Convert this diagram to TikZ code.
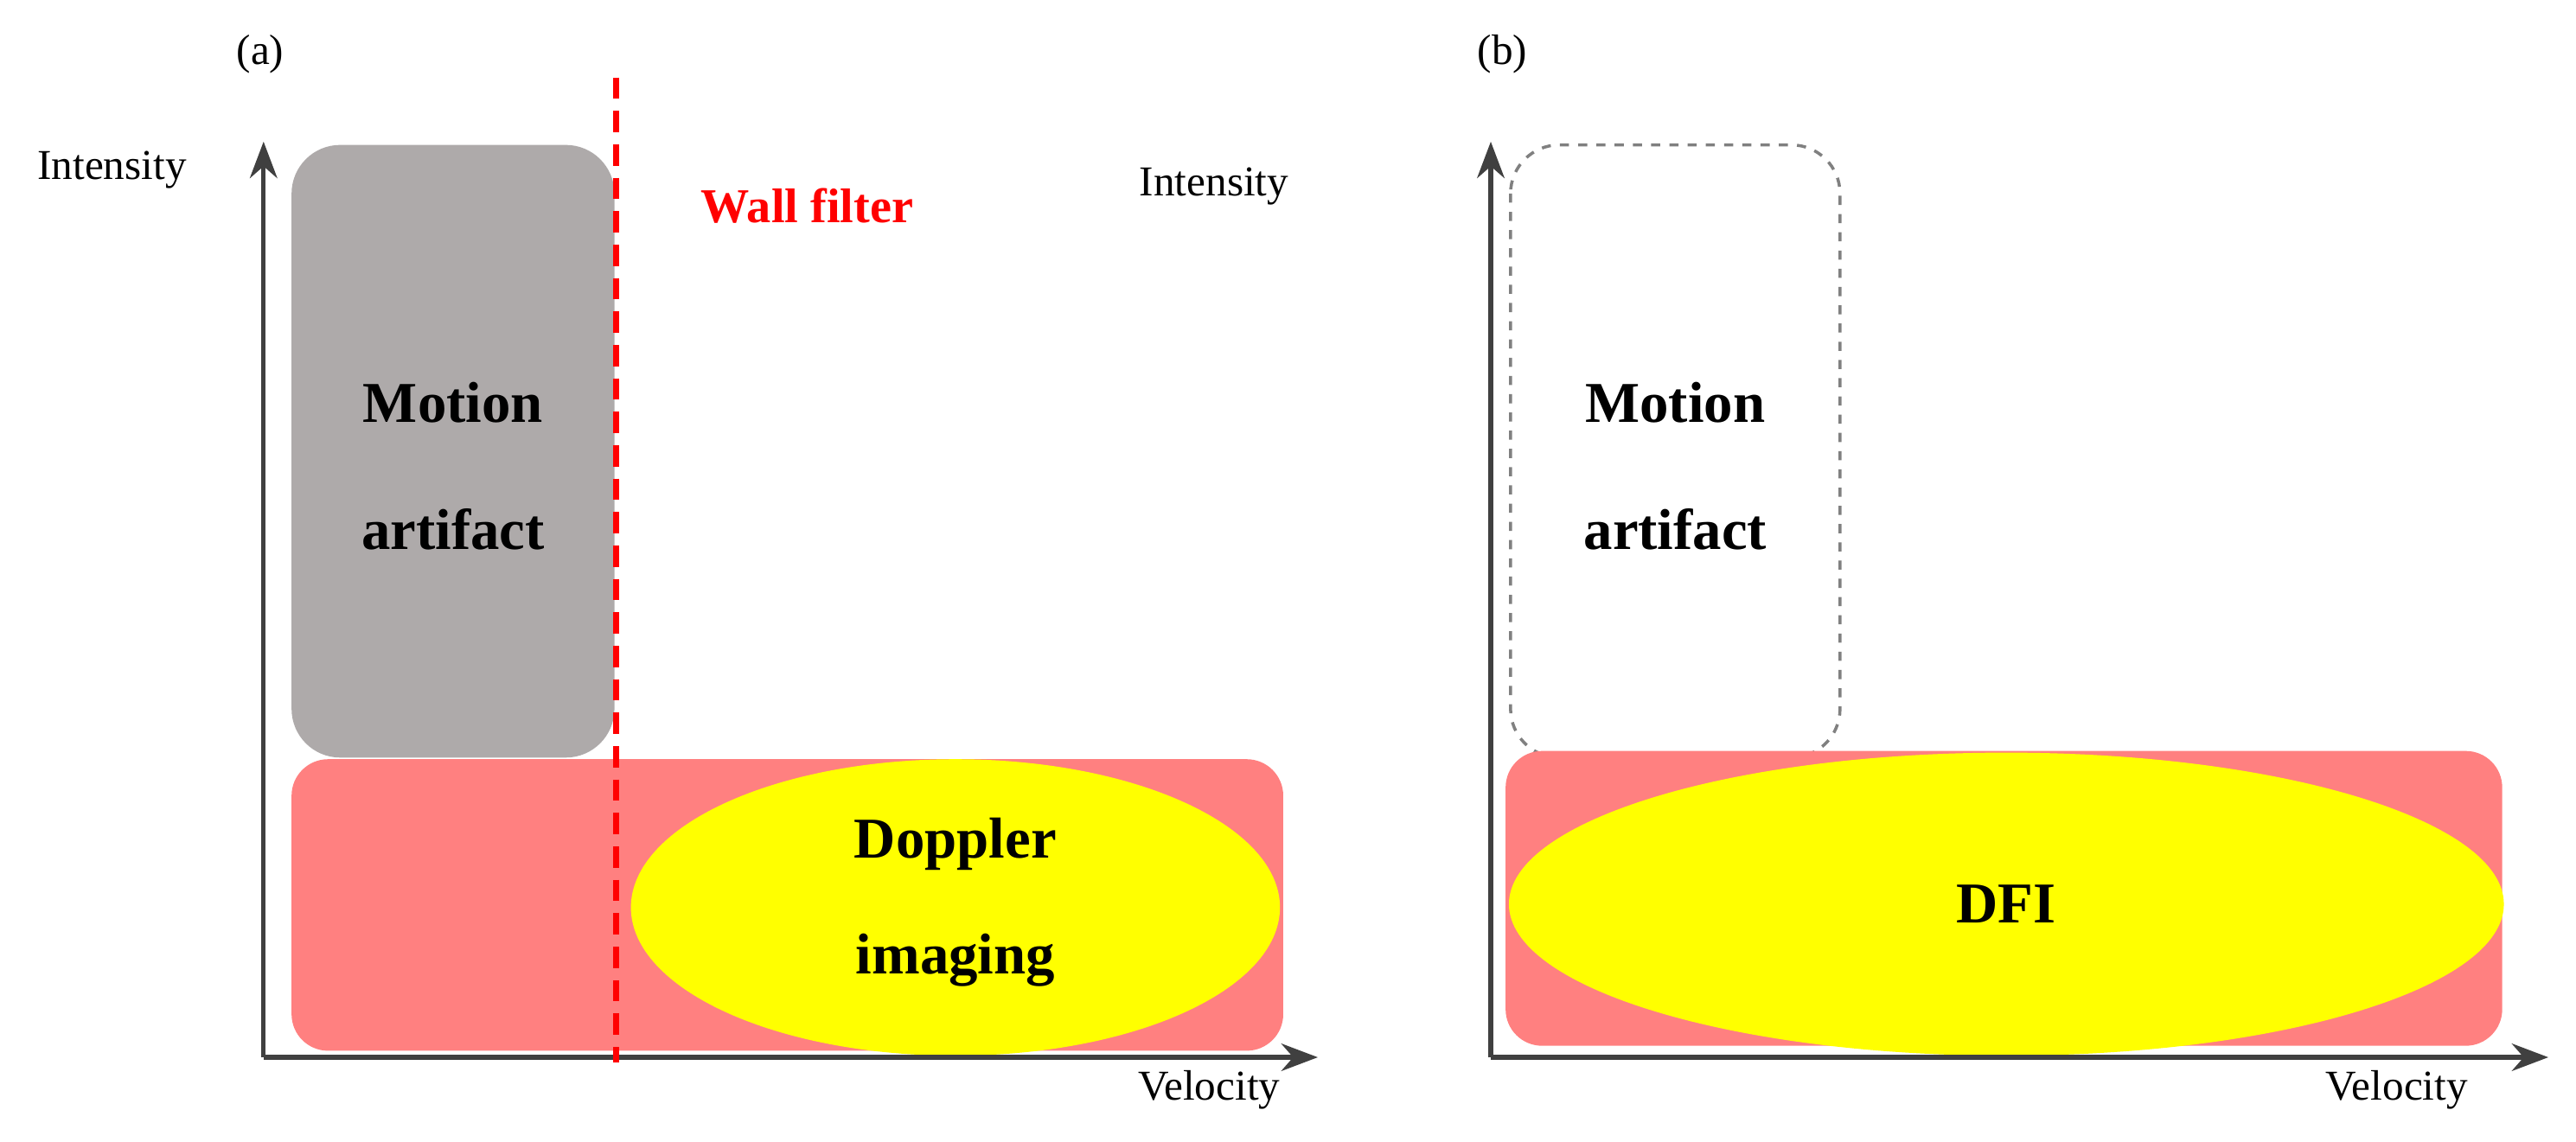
\documentclass[tikz,border=0pt]{standalone}
\usepackage{fontspec}
\setmainfont{Liberation Serif}
\usetikzlibrary{arrows.meta}
\begin{document}
\begin{tikzpicture}[x=0.01905cm,y=-0.01905cm,
 ax/.style={line width=1.5pt,draw={rgb,255:red,64;green,64;blue,64},-{Stealth[length=12pt,width=9pt]}},
 big/.style={font=\fontsize{19}{24}\selectfont\bfseries,align=center},
 lab/.style={font=\fontsize{14}{17}\selectfont}]
\definecolor{grayb}{RGB}{174,170,170}
\definecolor{redb}{RGB}{255,128,128}
\definecolor{yel}{RGB}{255,255,0}
\useasboundingbox (0,0) rectangle (1563.8,693.4);
% panel a
\fill[grayb,rounded corners=16pt] (177,88) rectangle (373,460);
\fill[redb,rounded corners=12pt] (177,461) rectangle (779,638);
\fill[yel] (580,551) ellipse [x radius=197,y radius=90];
\coordinate (o1) at (160,642);
\coordinate (ya) at (160,86);
\coordinate (xa) at (800,642);
\draw[ax] (o1) -- (ya);
\draw[ax] (o1) -- (xa);
\draw[red,dashed,line width=2pt,dash pattern=on 7pt off 4pt] (374,47) -- (374,645);
\node[big,text=red,font=\fontsize{16}{20}\selectfont\bfseries] (wf) at (490,125) {Wall filter};
\node[lab] (ia) at (68,103) {Intensity};
\node[lab] (ib) at (737,113) {Intensity};
\node[lab] (va) at (734,662) {Velocity};
\node[lab] (pa) at (158,33) {(a)};
\node[big] (ma) at (275,283) {Motion\\[18pt]artifact};
\node[big] (di) at (580,548) {Doppler\\[14pt]imaging};
% panel b
\draw[gray,dashed,line width=1pt,rounded corners=16pt] (917,88) rectangle (1117,460);
\fill[redb,rounded corners=12pt] (914,456) rectangle (1519,635);
\fill[yel] (1218,549) ellipse [x radius=302,y radius=92];
\coordinate (o2) at (905,642);
\coordinate (yb) at (905,86);
\coordinate (xb) at (1547,642);
\draw[ax] (o2) -- (yb);
\draw[ax] (o2) -- (xb);
\node[lab] (vb) at (1455,662) {Velocity};
\node[lab] (pb) at (912,33) {(b)};
\node[big] (mb) at (1017,283) {Motion\\[18pt]artifact};
\node[big] (dfi) at (1218,549) {DFI};
\end{tikzpicture}
\end{document}
